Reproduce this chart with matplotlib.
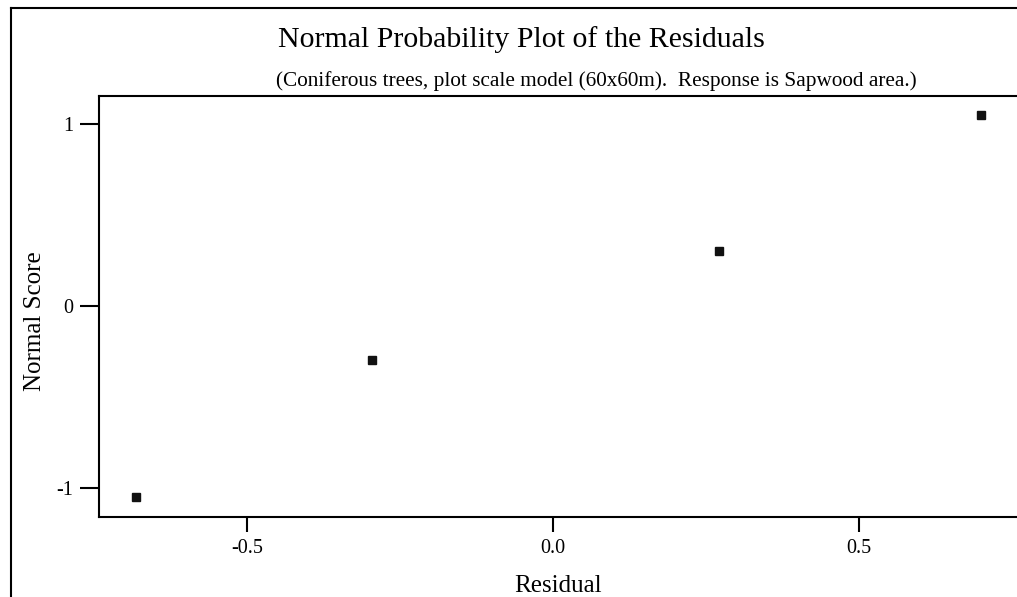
import matplotlib
matplotlib.use("Agg")
import matplotlib.pyplot as plt
from matplotlib.lines import Line2D

# Residuals and their normal scores
residuals = [-0.681, -0.296, 0.271, 0.699]
normal_scores = [-1.05, -0.30, 0.30, 1.05]

x_ticks = [-0.5, 0.0, 0.5]
x_tick_labels = ["-0.5", "0.0", "0.5"]
y_ticks = [-1, 0, 1]
y_tick_labels = ["-1", "0", "1"]

W, H = 1017, 597
plt.rcParams["font.family"] = ["Liberation Serif", "DejaVu Serif"]

fig = plt.figure(figsize=(W / 100, H / 100), dpi=100)

# plot area in pixel coordinates
left, right, top, bottom = 99, 1017, 96, 517
ax = fig.add_axes([left / W, 1 - bottom / H, (right - left) / W, (bottom - top) / H])

ax.plot(residuals, normal_scores, linestyle="none", marker="s",
        markersize=6, color="#111111", clip_on=False)

ax.set_xlim((99 - 553) / 612, (1017 - 553) / 612)
ax.set_ylim((305.7 - 517) / 182, (305.7 - 96) / 182)

ax.set_xticks(x_ticks)
ax.set_xticklabels(x_tick_labels)
ax.set_yticks(y_ticks)
ax.set_yticklabels(y_tick_labels)

ax.spines["right"].set_visible(False)
for s in ["left", "top", "bottom"]:
    ax.spines[s].set_linewidth(1.5)
    ax.spines[s].set_color("black")

ax.tick_params(axis="x", direction="out", length=11, width=1.5, pad=5, labelsize=14.5)
ax.tick_params(axis="y", direction="out", length=13.5, width=1.5, pad=5, labelsize=14.5)

ax.set_xlabel("Residual", fontsize=18, labelpad=12)
ax.set_ylabel("Normal Score", fontsize=18)
ax.yaxis.set_label_coords(-0.0577, 0.465)

fig.text(521 / W, 1 - 40 / H, "Normal Probability Plot of the Residuals",
         ha="center", va="center", fontsize=21.5)
fig.text(596.5 / W, 1 - 81 / H,
         "(Coniferous trees, plot scale model (60x60m).  Response is Sapwood area.)",
         ha="center", va="center", fontsize=15.3)

# outer frame along the left and top edges
fig.add_artist(Line2D([11 / W, 11 / W], [0, 1 - 8 / H], transform=fig.transFigure,
                      color="black", linewidth=1.5))
fig.add_artist(Line2D([11 / W, 1], [1 - 8 / H, 1 - 8 / H], transform=fig.transFigure,
                      color="black", linewidth=1.5))

fig.savefig("out.png", dpi=100)
